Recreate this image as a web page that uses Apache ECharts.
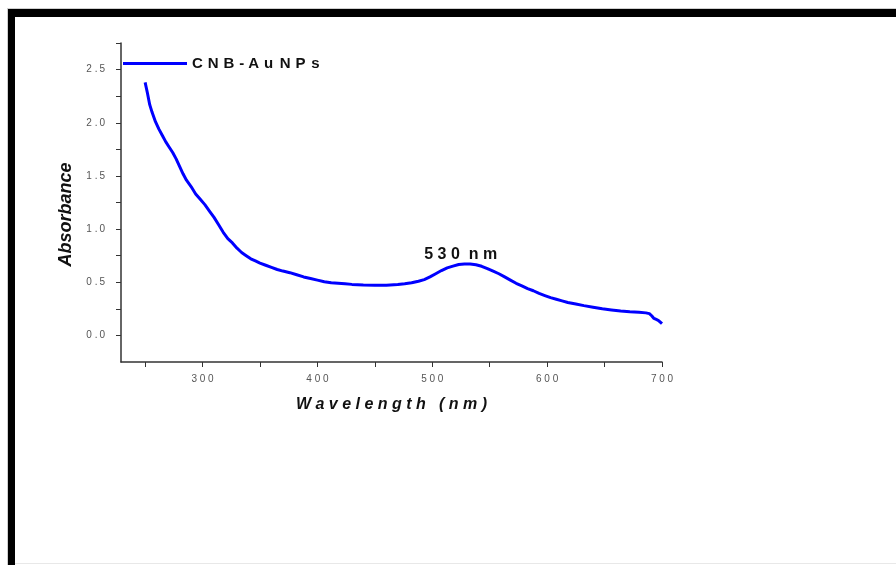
<!DOCTYPE html>
<html>
<head>
<meta charset="utf-8">
<script src="https://cdn.jsdelivr.net/npm/echarts@6/dist/echarts.min.js"></script>
<style>
html,body{margin:0;padding:0;background:#fff;}
#chart{width:896px;height:565px;}
</style>
</head>
<body>
<div id="chart"></div>
<script>
var seriesName = 'CNB-AuNPs';
var wavelength = [250,252,254,256,259,262,265,268,271,274,277,280,283,286,290,294,298,302,306,310,314,318,322,326,330,334,338,342,346,350,355,360,365,370,376,382,388,394,400,406,412,418,424,430,440,450,460,470,476,482,488,493,498,503,508,513,518,523,528,533,538,543,548,553,558,563,568,573,578,583,588,593,598,603,608,613,618,625,632,640,648,656,664,672,680,686,689,691,693,695,697,699,700];
var absorbance = [2.38,2.28,2.17,2.10,2.01,1.94,1.88,1.82,1.77,1.72,1.66,1.59,1.52,1.46,1.40,1.33,1.28,1.23,1.17,1.11,1.04,0.97,0.91,0.87,0.82,0.78,0.75,0.72,0.70,0.68,0.66,0.64,0.62,0.605,0.59,0.57,0.55,0.535,0.52,0.505,0.495,0.49,0.485,0.48,0.475,0.472,0.472,0.478,0.485,0.495,0.51,0.525,0.55,0.58,0.61,0.635,0.652,0.667,0.672,0.672,0.665,0.65,0.628,0.605,0.58,0.55,0.52,0.49,0.465,0.44,0.42,0.395,0.375,0.355,0.34,0.325,0.31,0.295,0.28,0.265,0.25,0.24,0.23,0.222,0.217,0.212,0.205,0.185,0.16,0.15,0.14,0.12,0.11];
var xTickValues = [250,300,350,400,450,500,550,600,650,700];
var xLabelValues = [300,400,500,600,700];
var yTickValues = [0,0.25,0.5,0.75,1,1.25,1.5,1.75,2,2.25,2.5,2.75];
var yLabelValues = [0,0.5,1,1.5,2,2.5];
var peakWavelength = 530;
var peakAbsorbance = 0.672;
var peakLabel = '530 nm';
var xTitle = 'Wavelength (nm)';
var yTitle = 'Absorbance';

var data = wavelength.map(function(w,i){return [w, absorbance[i]];});
function spaced(s){ return s.split('').join(' ').replace('   ', '  '); }

var FONT = 'Liberation Sans, Arial, sans-serif';
var chart = echarts.init(document.getElementById('chart'), null, {renderer:'canvas'});
chart.setOption({
  animation:false,
  backgroundColor:'#ffffff',
  grid:{left:121, right:234, top:43, bottom:203, containLabel:false},
  legend:{
    show:true,
    left:123, top:56, padding:0,
    itemWidth:64, itemHeight:3,
    data:[{name:seriesName, icon:'rect'}],
    formatter:function(name){
      return name.split('').map(function(ch){return (ch === '-' ? '{d|' : '{c|') + ch + '}';}).join('');
    },
    textStyle:{fontFamily:FONT, fontWeight:'bold', fontSize:15, color:'#111',
      rich:{
        c:{width:15.75, align:'left', fontFamily:FONT, fontWeight:'bold', fontSize:15, color:'#111'},
        d:{width:9, align:'left', fontFamily:FONT, fontWeight:'bold', fontSize:15, color:'#111'}
      }}
  },
  xAxis:{
    type:'value', min:229, max:700,
    name:xTitle.split('').join(' '), nameLocation:'middle', nameGap:35,
    nameTextStyle:{fontFamily:FONT, fontWeight:'bold', fontStyle:'italic', fontSize:16, color:'#111'},
    axisLine:{show:true, onZero:false, lineStyle:{color:'#333', width:1.5}},
    axisTick:{show:true, inside:false, length:5, customValues:xTickValues, lineStyle:{color:'#333', width:1}},
    axisLabel:{show:true, margin:12, customValues:xLabelValues, fontFamily:FONT, fontSize:10, color:'#555',
      formatter:function(v){return String(v).split('').join(' ');}},
    splitLine:{show:false}
  },
  yAxis:{
    type:'value', min:-0.25, max:2.75,
    name:yTitle, nameLocation:'middle', nameGap:46, nameRotate:90,
    nameTextStyle:{fontFamily:FONT, fontWeight:'bold', fontStyle:'italic', fontSize:18, color:'#111', padding:[0,24,0,0]},
    axisLine:{show:true, onZero:false, lineStyle:{color:'#333', width:1.5}},
    axisTick:{show:true, inside:false, length:5, customValues:yTickValues, lineStyle:{color:'#333', width:1}},
    axisLabel:{show:true, margin:16, customValues:yLabelValues, fontFamily:FONT, fontSize:10, color:'#555',
      formatter:function(v){return v.toFixed(1).replace('.', ' .\u2009');}},
    splitLine:{show:false}
  },
  series:[{
    name:seriesName,
    type:'line',
    data:data,
    showSymbol:false,
    symbol:'none',
    smooth:false,
    color:'#0000ff',
    lineStyle:{color:'#0000ff', width:3},
    markPoint:{
      symbol:'circle', symbolSize:1,
      itemStyle:{color:'rgba(0,0,0,0)'},
      data:[{coord:[peakWavelength, peakAbsorbance]}],
      label:{show:true, position:'top', distance:1, offset:[-6,0], formatter:spaced(peakLabel),
        fontFamily:FONT, fontWeight:'bold', fontSize:16, color:'#111'}
    }
  }],
  graphic:[
    {type:'rect', silent:true, shape:{x:7, y:8, width:889, height:1}, style:{fill:'#cfcfcf'}},
    {type:'rect', silent:true, shape:{x:7, y:9, width:889, height:8}, style:{fill:'#000'}},
    {type:'rect', silent:true, shape:{x:7, y:9, width:1, height:556}, style:{fill:'#cfcfcf'}},
    {type:'rect', silent:true, shape:{x:8, y:9, width:7, height:556}, style:{fill:'#000'}},
    {type:'rect', silent:true, shape:{x:15, y:563, width:881, height:1}, style:{fill:'#e8e8e8'}}
  ]
});
</script>
</body>
</html>
